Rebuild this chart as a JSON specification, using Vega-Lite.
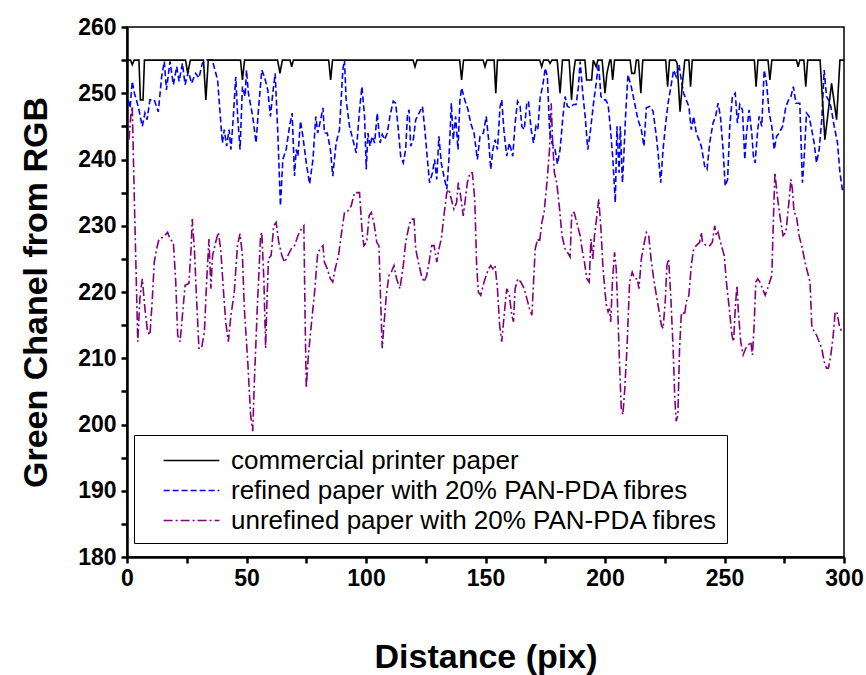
{
  "$schema": "https://vega.github.io/schema/vega-lite/v6.json",
  "width": 717,
  "height": 530,
  "autosize": {"type": "none"},
  "padding": {"left": 127, "top": 27, "right": 22, "bottom": 118},
  "background": "white",
  "config": {
    "font": "Liberation Sans",
    "view": {"stroke": "black", "strokeWidth": 1.5},
    "axis": {
      "grid": false,
      "domainColor": "black",
      "domainWidth": 2.5,
      "tickColor": "black",
      "tickWidth": 2.5,
      "tickSize": 6,
      "labelFlush": false,
      "labelFont": "Liberation Sans",
      "labelFontWeight": "bold",
      "labelFontSize": 23,
      "labelColor": "black",
      "titleFont": "Liberation Sans",
      "titleFontWeight": "bold",
      "titleFontSize": 34,
      "titleColor": "black"
    },
    "legend": {
      "orient": "none",
      "legendX": 7,
      "legendY": 408,
      "strokeColor": "black",
      "padding": 9,
      "symbolType": "M-1.8,0H1.8",
      "symbolSize": 961,
      "symbolStrokeWidth": 1.6,
      "symbolOffset": 32,
      "labelOffset": 23,
      "labelFont": "Liberation Sans",
      "labelFontSize": 26,
      "labelColor": "black",
      "labelLimit": 800,
      "rowPadding": 0
    }
  },
  "datasets": {
    "commercial": [
      {"x":0,"y":255},{"x":1.5,"y":255},{"x":2.2,"y":254.3},{"x":3,"y":255},{"x":5,"y":255},{"x":5.6,"y":249},{"x":6.7,"y":249},{"x":7.3,"y":255},
      {"x":24.5,"y":255},{"x":25.4,"y":253},{"x":26.5,"y":255},{"x":32,"y":255},{"x":33,"y":249},{"x":34,"y":255},{"x":47.5,"y":255},{"x":48.3,"y":252},{"x":49.2,"y":255},
      {"x":63,"y":255},{"x":64,"y":253},{"x":65,"y":255},{"x":68.2,"y":255},{"x":68.9,"y":254},{"x":69.6,"y":255},{"x":84.4,"y":255},{"x":85.2,"y":252},{"x":86,"y":255},
      {"x":119.7,"y":255},{"x":120.5,"y":254},{"x":121.3,"y":255},{"x":139.2,"y":255},{"x":140,"y":252},{"x":140.8,"y":255},{"x":149,"y":255},{"x":149.8,"y":254},{"x":150.6,"y":255},
      {"x":153.6,"y":255},{"x":154.3,"y":250},{"x":155,"y":255},{"x":172.7,"y":255},{"x":173.5,"y":254},{"x":174.3,"y":255},{"x":176.3,"y":255},{"x":177,"y":254.5},{"x":177.8,"y":255},
      {"x":180,"y":255},{"x":181.2,"y":250},{"x":182.2,"y":255},{"x":185,"y":255},{"x":186,"y":249},{"x":186.8,"y":253},{"x":187.6,"y":255},{"x":191.6,"y":255},{"x":192.3,"y":252},{"x":194.4,"y":252},{"x":195.1,"y":255},{"x":196.3,"y":254},{"x":197,"y":255},
      {"x":198.8,"y":255},{"x":200,"y":250},{"x":200.8,"y":253},{"x":202,"y":255},{"x":202.5,"y":255},{"x":203.2,"y":252},{"x":204,"y":255},{"x":210.5,"y":255},{"x":211.2,"y":253},{"x":212.4,"y":253},{"x":213.1,"y":255},
      {"x":214,"y":255},{"x":215,"y":250},{"x":215.8,"y":255},{"x":225.4,"y":255},{"x":226.2,"y":251},{"x":227,"y":255},{"x":229.5,"y":255},{"x":230.2,"y":254.5},{"x":231.4,"y":247.2},{"x":232.4,"y":251.5},{"x":233.4,"y":255},
      {"x":235.1,"y":255},{"x":235.8,"y":251},{"x":236.5,"y":255},{"x":262.5,"y":255},{"x":263.2,"y":251},{"x":264,"y":255},{"x":268.2,"y":255},{"x":269,"y":252},{"x":269.8,"y":255},
      {"x":280.1,"y":255},{"x":280.8,"y":254},{"x":281.5,"y":255},{"x":283.2,"y":255},{"x":284,"y":251},{"x":284.8,"y":255},{"x":290,"y":255},{"x":292,"y":243},{"x":294.8,"y":251.5},{"x":296.9,"y":246},{"x":298.3,"y":255},{"x":300,"y":255}
    ],
    "refined": [
      {"x":0.5,"y":249},{"x":1.3,"y":247.8},{"x":2.2,"y":251.8},{"x":3.1,"y":250},{"x":4.7,"y":248},{"x":6.4,"y":245},{"x":7.5,"y":247},{"x":8.4,"y":246},{"x":9.6,"y":249},{"x":11.4,"y":249},{"x":13.1,"y":247.2},{"x":14.5,"y":252.5},{"x":15.6,"y":254.8},{"x":16.5,"y":250.5},{"x":18,"y":254.8},{"x":19.4,"y":251.3},{"x":20.8,"y":254},{"x":21.8,"y":251.8},{"x":23.2,"y":254.5},{"x":24.3,"y":251.3},{"x":25.7,"y":253.3},{"x":27,"y":251.5},{"x":28.7,"y":253},{"x":30.1,"y":252.3},{"x":31.5,"y":254.5},{"x":33.3,"y":255},{"x":35.7,"y":255},{"x":37.9,"y":252},{"x":39.9,"y":242.5},{"x":40.7,"y":244.5},{"x":41.7,"y":242},{"x":42.7,"y":244.5},{"x":43.5,"y":241.5},{"x":44.5,"y":246.5},{"x":45.5,"y":252.5},{"x":46.3,"y":246.5},{"x":47.3,"y":241.5},{"x":48.3,"y":251},{"x":49.4,"y":249.5},
      {"x":50,"y":253.5},{"x":50.8,"y":250},{"x":52.6,"y":246.5},{"x":54,"y":242.5},{"x":55,"y":247.5},{"x":56.4,"y":253.5},{"x":57.5,"y":252.5},{"x":58.9,"y":250.5},{"x":60,"y":246.5},{"x":61,"y":250},{"x":62,"y":253},{"x":63.1,"y":244},{"x":64.2,"y":233},{"x":65.2,"y":240},{"x":66.6,"y":241.5},{"x":68,"y":245},{"x":69.1,"y":247},{"x":70.1,"y":237.5},{"x":70.8,"y":241.5},{"x":71.5,"y":240.5},{"x":72.6,"y":245.8},{"x":73.6,"y":243.5},{"x":75,"y":239.5},{"x":76.4,"y":236.3},{"x":77.8,"y":240},{"x":79,"y":246.5},{"x":79.8,"y":244},{"x":81,"y":246},{"x":82,"y":247.8},{"x":82.6,"y":244},{"x":83.8,"y":244},{"x":85.1,"y":241.5},{"x":86.1,"y":237.5},{"x":87.5,"y":242.5},{"x":88.9,"y":244.5},{"x":90.3,"y":253.5},{"x":91,"y":255},{"x":91.7,"y":249},{"x":93.1,"y":245},{"x":94.5,"y":243},{"x":95.9,"y":241},{"x":97.3,"y":247.5},{"x":98.3,"y":251},{"x":99.4,"y":246.5},
      {"x":100.1,"y":238.5},{"x":100.8,"y":244},{"x":101.7,"y":242},{"x":102.6,"y":243.5},{"x":103.6,"y":242.5},{"x":104.7,"y":247},{"x":105.9,"y":242.5},{"x":106.8,"y":243.8},{"x":107.8,"y":243},{"x":108.9,"y":244},{"x":110,"y":246.5},{"x":111.4,"y":248.8},{"x":112.4,"y":248.5},{"x":113.4,"y":245},{"x":114.5,"y":240.5},{"x":115.6,"y":239.5},{"x":116.6,"y":241.5},{"x":117.3,"y":246.5},{"x":118,"y":247.5},{"x":118.7,"y":242},{"x":119.8,"y":243},{"x":120.8,"y":246},{"x":122.2,"y":247},{"x":123.6,"y":248},{"x":124.5,"y":245},{"x":125.7,"y":240},{"x":126.6,"y":236.5},{"x":127.8,"y":238},{"x":128.7,"y":240},{"x":129.6,"y":237},{"x":130.5,"y":243.5},{"x":131.5,"y":239.5},{"x":132.6,"y":237.5},{"x":133.8,"y":235.5},{"x":134.7,"y":240},{"x":135.7,"y":248.5},{"x":136.5,"y":243},{"x":137.5,"y":246.5},{"x":138.5,"y":241.5},{"x":139.3,"y":249},{"x":140,"y":250.8},{"x":141.3,"y":249},{"x":142.7,"y":247.5},{"x":143.8,"y":245.5},{"x":145.2,"y":244},{"x":146.6,"y":240},{"x":147.7,"y":243.5},{"x":149.1,"y":244},
      {"x":150.3,"y":246.5},{"x":151.3,"y":243},{"x":152.2,"y":238.5},{"x":153.1,"y":241.5},{"x":154,"y":243},{"x":155,"y":241.5},{"x":156.1,"y":248},{"x":156.8,"y":249},{"x":157.8,"y":244},{"x":158.9,"y":240.5},{"x":160,"y":242.5},{"x":161.4,"y":240.5},{"x":162.4,"y":245.5},{"x":163.4,"y":248.8},{"x":164.5,"y":248},{"x":165.2,"y":245},{"x":166.2,"y":244.5},{"x":167.3,"y":248.5},{"x":168,"y":248.8},{"x":169.1,"y":244.5},{"x":170.1,"y":242.5},{"x":171.1,"y":245},{"x":171.9,"y":244.5},{"x":172.9,"y":249.5},{"x":173.9,"y":251},{"x":175,"y":253.8},{"x":175.9,"y":252.5},{"x":176.8,"y":244.5},{"x":177.8,"y":242.5},{"x":179.1,"y":241.5},{"x":180.1,"y":239.3},{"x":181.2,"y":241.5},{"x":182.4,"y":246.5},{"x":183.3,"y":249.5},{"x":184.3,"y":248},{"x":185.4,"y":247.8},{"x":186.8,"y":248.3},{"x":187.9,"y":248.3},{"x":188.9,"y":251},{"x":189.6,"y":254.8},{"x":190.7,"y":250},{"x":191.7,"y":246.5},{"x":192.8,"y":241.5},{"x":193.8,"y":244},{"x":195.2,"y":248.5},{"x":196.3,"y":251.5},{"x":197.3,"y":254.5},{"x":198.3,"y":249.5},{"x":199.4,"y":249},
      {"x":200.3,"y":249},{"x":201.3,"y":248.3},{"x":202.2,"y":245},{"x":203.3,"y":240},{"x":204.3,"y":233.5},{"x":205,"y":245},{"x":205.9,"y":238},{"x":206.4,"y":245},{"x":207.3,"y":236.5},{"x":207.8,"y":240},{"x":208.6,"y":246.5},{"x":209.6,"y":252.8},{"x":211,"y":251},{"x":212.4,"y":248.5},{"x":213.8,"y":246},{"x":215.2,"y":244.5},{"x":216.3,"y":242},{"x":217.3,"y":247.8},{"x":218.7,"y":248},{"x":220.1,"y":247.3},{"x":221.5,"y":243.5},{"x":222.6,"y":239.5},{"x":223.3,"y":236.5},{"x":224.3,"y":241.5},{"x":225.4,"y":245.5},{"x":226.4,"y":248.5},{"x":227.8,"y":251.5},{"x":228.7,"y":253.5},{"x":229.8,"y":252.5},{"x":231,"y":254.3},{"x":231.9,"y":252},{"x":232.9,"y":250},{"x":234,"y":249},{"x":235.1,"y":248},{"x":236.1,"y":244.5},{"x":237.1,"y":246.5},{"x":238.2,"y":244},{"x":239.3,"y":243},{"x":240.3,"y":242},{"x":241.7,"y":239},{"x":242.7,"y":238.5},{"x":243.8,"y":242.5},{"x":245.2,"y":245.5},{"x":246.3,"y":246.5},{"x":247.3,"y":248.5},{"x":248.3,"y":246.5},{"x":249.4,"y":241.5},
      {"x":250.3,"y":236},{"x":251.3,"y":237},{"x":252.2,"y":245},{"x":253.3,"y":249.5},{"x":254.5,"y":250},{"x":255.4,"y":245.5},{"x":256.4,"y":248.3},{"x":257.5,"y":247.5},{"x":258.5,"y":240},{"x":259.2,"y":244},{"x":260.3,"y":247.5},{"x":261.4,"y":244},{"x":262.1,"y":240.5},{"x":262.8,"y":239.5},{"x":263.8,"y":244},{"x":264.5,"y":246.5},{"x":265.6,"y":245},{"x":266.6,"y":253.5},{"x":267.6,"y":251.5},{"x":268.7,"y":247},{"x":269.8,"y":245},{"x":270.8,"y":241.5},{"x":271.8,"y":243.5},{"x":272.9,"y":244},{"x":274.3,"y":245},{"x":275.7,"y":248},{"x":276.8,"y":249},{"x":277.8,"y":249.5},{"x":278.8,"y":251},{"x":279.9,"y":248.5},{"x":281.5,"y":248.5},{"x":282.6,"y":236.5},{"x":283.3,"y":240},{"x":284.3,"y":247},{"x":285.4,"y":246.5},{"x":286.5,"y":244.5},{"x":287.5,"y":242.5},{"x":288.5,"y":239.5},{"x":289.6,"y":241.5},{"x":290.7,"y":246},{"x":291.7,"y":253.5},{"x":292.7,"y":249.5},{"x":293.5,"y":249},{"x":294.5,"y":248},{"x":295.9,"y":245},{"x":297.3,"y":242.5},{"x":298.3,"y":238},{"x":299.5,"y":235}
    ],
    "unrefined": [
      {"x":0.8,"y":243},{"x":1.7,"y":247},{"x":2.2,"y":248},{"x":3.2,"y":232},{"x":4.5,"y":212.5},{"x":5.4,"y":219},{"x":6.4,"y":222},{"x":7.5,"y":217.5},{"x":8.6,"y":214},{"x":9.6,"y":213.5},{"x":10.6,"y":219},{"x":11.4,"y":224.5},{"x":12.4,"y":226.5},{"x":13.4,"y":228},{"x":15.2,"y":228.3},{"x":17,"y":229},{"x":18,"y":228},{"x":19.4,"y":227.5},{"x":20.4,"y":221.5},{"x":21.2,"y":213.5},{"x":22.2,"y":212.5},{"x":23.2,"y":216.5},{"x":24.3,"y":221},{"x":25.9,"y":221.3},{"x":26.8,"y":226.5},{"x":27.3,"y":231},{"x":28.2,"y":226.5},{"x":29.1,"y":219},{"x":30.1,"y":211.5},{"x":31.2,"y":211.5},{"x":32.4,"y":214},{"x":33.3,"y":221.5},{"x":34.3,"y":228},{"x":35.1,"y":220.5},{"x":35.8,"y":225.5},{"x":37.1,"y":227.5},{"x":38.2,"y":229},{"x":39.2,"y":226.5},{"x":40.3,"y":220.5},{"x":41.3,"y":215.5},{"x":42.4,"y":212.5},{"x":43.5,"y":216.5},{"x":44.9,"y":220},{"x":46.2,"y":227},{"x":47.3,"y":228.8},{"x":48.3,"y":225.5},{"x":49.1,"y":217.5},
      {"x":50.6,"y":209},{"x":51.7,"y":201.5},{"x":52.6,"y":199},{"x":53.3,"y":206.5},{"x":54.5,"y":217.5},{"x":55.9,"y":228.5},{"x":56.4,"y":229},{"x":57.3,"y":221.5},{"x":58,"y":211.5},{"x":58.6,"y":219},{"x":59.2,"y":225},{"x":60.3,"y":225.5},{"x":61.4,"y":230},{"x":62.4,"y":230.5},{"x":63.5,"y":227.5},{"x":64.8,"y":225.5},{"x":65.9,"y":224.5},{"x":67.3,"y":225.5},{"x":68.7,"y":226.5},{"x":70.1,"y":227},{"x":71.5,"y":228.5},{"x":72.9,"y":229.5},{"x":74,"y":230},{"x":74.5,"y":216.5},{"x":75,"y":205.5},{"x":75.9,"y":210.5},{"x":77.1,"y":215},{"x":78.5,"y":220},{"x":79.8,"y":226},{"x":81,"y":226.5},{"x":82,"y":227},{"x":82.6,"y":224.5},{"x":83.8,"y":223.5},{"x":85.1,"y":222},{"x":86.1,"y":221.5},{"x":87.1,"y":223.5},{"x":88.5,"y":225.5},{"x":89.6,"y":228.5},{"x":91,"y":232},{"x":92.7,"y":232.3},{"x":93.8,"y":233},{"x":95.2,"y":235},{"x":97.3,"y":235},{"x":98.3,"y":229.5},{"x":99.1,"y":227},
      {"x":100.3,"y":227.5},{"x":101.3,"y":231.5},{"x":102.2,"y":232},{"x":103.3,"y":230.5},{"x":104.5,"y":227.5},{"x":105.4,"y":227},{"x":106.1,"y":219},{"x":106.8,"y":211.5},{"x":107.5,"y":215},{"x":108.5,"y":219.5},{"x":109.6,"y":222.5},{"x":110.6,"y":223},{"x":111.7,"y":224},{"x":112.8,"y":222},{"x":114.2,"y":220.5},{"x":115.6,"y":224},{"x":116.6,"y":227.5},{"x":118,"y":230},{"x":119,"y":231},{"x":120.1,"y":231},{"x":120.8,"y":226.5},{"x":121.9,"y":224.5},{"x":123.2,"y":222.5},{"x":124.3,"y":221.5},{"x":125.4,"y":222.5},{"x":126.4,"y":224.5},{"x":127.5,"y":227},{"x":128.5,"y":227},{"x":129.6,"y":224.5},{"x":130.5,"y":226.5},{"x":131.5,"y":228},{"x":132.6,"y":231.5},{"x":133.8,"y":235},{"x":134.7,"y":235.5},{"x":135.7,"y":234},{"x":136.8,"y":232.5},{"x":137.9,"y":233.5},{"x":138.6,"y":236.5},{"x":139.6,"y":234.5},{"x":140.7,"y":231.5},{"x":141.4,"y":233.5},{"x":142.4,"y":236.5},{"x":143.5,"y":238},{"x":144.5,"y":238},{"x":145.5,"y":234},{"x":146.3,"y":224},{"x":147,"y":220},{"x":148,"y":219.5},{"x":149.4,"y":221.5},
      {"x":150.3,"y":222.5},{"x":151.3,"y":223.5},{"x":152.2,"y":224},{"x":153.1,"y":223.5},{"x":154,"y":224},{"x":155,"y":220.5},{"x":155.9,"y":215},{"x":156.8,"y":212.5},{"x":157.8,"y":216.5},{"x":158.9,"y":220.5},{"x":160,"y":219.5},{"x":161,"y":216.5},{"x":161.7,"y":215.5},{"x":162.4,"y":220.5},{"x":163.5,"y":222},{"x":164.8,"y":221.5},{"x":166.2,"y":220.5},{"x":167.3,"y":219},{"x":168.4,"y":217.5},{"x":169.4,"y":216.5},{"x":170.1,"y":221.5},{"x":170.8,"y":226.5},{"x":171.8,"y":228},{"x":172.6,"y":227.5},{"x":173.6,"y":230.5},{"x":174.5,"y":232},{"x":175.7,"y":236.5},{"x":176.8,"y":241.5},{"x":177.5,"y":248.5},{"x":178,"y":243.5},{"x":178.8,"y":238},{"x":179.8,"y":236.5},{"x":181,"y":232.5},{"x":182,"y":228.5},{"x":183.3,"y":226.5},{"x":184.3,"y":226},{"x":185.4,"y":225.3},{"x":186.1,"y":232},{"x":187.1,"y":232},{"x":188.2,"y":230.5},{"x":189.6,"y":228.5},{"x":190.6,"y":226},{"x":191.4,"y":224.5},{"x":192.4,"y":222},{"x":193.4,"y":221.5},{"x":194.1,"y":228},{"x":194.9,"y":225},{"x":195.6,"y":228.5},{"x":196.6,"y":231.5},{"x":197.4,"y":234},{"x":198.3,"y":229.5},{"x":199.1,"y":224},
      {"x":200,"y":220},{"x":200.6,"y":218},{"x":201.3,"y":217},{"x":201.9,"y":217.5},{"x":202.4,"y":215.5},{"x":203.1,"y":221.5},{"x":204,"y":226},{"x":204.7,"y":223.5},{"x":205.4,"y":216.5},{"x":206.1,"y":209},{"x":206.8,"y":202.5},{"x":207.5,"y":201.5},{"x":208.2,"y":205},{"x":209.2,"y":211.5},{"x":210.3,"y":221.5},{"x":211.4,"y":223},{"x":212.4,"y":222},{"x":213.5,"y":222},{"x":214.2,"y":220.5},{"x":215.2,"y":225},{"x":216.2,"y":227},{"x":217.3,"y":229},{"x":218.3,"y":228.5},{"x":219.4,"y":224.5},{"x":220.8,"y":221},{"x":222.2,"y":218},{"x":223.6,"y":215},{"x":224.3,"y":214.5},{"x":225.2,"y":218.5},{"x":225.9,"y":224},{"x":226.6,"y":225},{"x":227.5,"y":219.5},{"x":228.5,"y":211.5},{"x":229.2,"y":204},{"x":229.8,"y":200.5},{"x":230.5,"y":201.5},{"x":231.2,"y":211.5},{"x":231.9,"y":216.5},{"x":232.6,"y":217},{"x":233.3,"y":216.5},{"x":234,"y":218.5},{"x":235.1,"y":219.5},{"x":236.1,"y":224},{"x":237.1,"y":226.5},{"x":238.2,"y":227},{"x":239.6,"y":227.5},{"x":240.3,"y":229},{"x":240.8,"y":227.5},{"x":242.4,"y":227},{"x":243.8,"y":227},{"x":244.9,"y":227.5},{"x":245.9,"y":230},{"x":246.6,"y":228.5},{"x":247.3,"y":229},{"x":248,"y":228},{"x":248.7,"y":227},
      {"x":249.9,"y":225.5},{"x":250.8,"y":221.5},{"x":252,"y":217.5},{"x":253.1,"y":213.5},{"x":253.8,"y":212.5},{"x":254.5,"y":217.5},{"x":255.2,"y":221},{"x":255.9,"y":216.5},{"x":256.8,"y":212.5},{"x":257.8,"y":210.5},{"x":258.9,"y":211.5},{"x":260,"y":212},{"x":261,"y":212.5},{"x":261.7,"y":210.5},{"x":262.4,"y":215},{"x":263.1,"y":221.5},{"x":263.9,"y":222},{"x":264.8,"y":221.5},{"x":265.9,"y":220.5},{"x":267,"y":219.5},{"x":268,"y":220.5},{"x":268.9,"y":221.5},{"x":269.8,"y":222.5},{"x":270.5,"y":231.5},{"x":271.1,"y":238},{"x":271.8,"y":235.5},{"x":272.6,"y":233},{"x":273.6,"y":230.5},{"x":274.5,"y":228.5},{"x":275.7,"y":229},{"x":276.8,"y":233},{"x":277.8,"y":237},{"x":278.4,"y":235.5},{"x":279.1,"y":232},{"x":280.1,"y":231.5},{"x":281.2,"y":228.5},{"x":282.6,"y":226.5},{"x":284,"y":224},{"x":285.1,"y":222.5},{"x":285.8,"y":221.5},{"x":286.5,"y":215},{"x":287.5,"y":214},{"x":288.5,"y":213.5},{"x":289.6,"y":212.5},{"x":290.7,"y":211.5},{"x":291.7,"y":209.5},{"x":292.7,"y":208.5},{"x":293.5,"y":208.5},{"x":294.5,"y":210.5},{"x":295.5,"y":213.5},{"x":296.3,"y":217},{"x":297,"y":217},{"x":298,"y":215},{"x":299,"y":214},{"x":300,"y":214}
    ]
  },
  "encoding": {
    "x": {
      "field": "x", "type": "quantitative",
      "scale": {"domain": [0, 300], "nice": false},
      "axis": {
        "title": "Distance (pix)",
        "values": [0,25,50,75,100,125,150,175,200,225,250,275,300],
        "labelExpr": "datum.value % 50 === 0 ? datum.label : ''",
        "labelFlush": false,
        "labelPadding": 4,
        "titlePadding": 50
      }
    },
    "y": {
      "field": "y", "type": "quantitative",
      "scale": {"domain": [180, 260], "nice": false, "zero": false},
      "axis": {
        "title": "Green Chanel from RGB",
        "values": [180,185,190,195,200,205,210,215,220,225,230,235,240,245,250,255,260],
        "labelExpr": "datum.value % 10 === 0 ? datum.label : ''",
        "labelFlush": false,
        "labelPadding": 5,
        "titlePadding": 24
      }
    },
    "color": {
      "scale": {
        "domain": ["commercial printer paper", "refined paper with 20% PAN-PDA fibres", "unrefined paper with 20% PAN-PDA fibres"],
        "range": ["#000000", "#0000FF", "#800080"]
      },
      "legend": {"title": null, "labelExpr": "datum.label + '\u00a0\u00a0\u00a0\u00a0\u00a0'"}
    },
    "strokeDash": {
      "scale": {
        "domain": ["commercial printer paper", "refined paper with 20% PAN-PDA fibres", "unrefined paper with 20% PAN-PDA fibres"],
        "range": [[1, 0], [6, 3], [9, 3, 2, 3]]
      },
      "legend": {"title": null, "labelExpr": "datum.label + '\u00a0\u00a0\u00a0\u00a0\u00a0'"}
    }
  },
  "layer": [
    {
      "data": {"name": "unrefined"},
      "mark": {"type": "line", "strokeWidth": 1.6},
      "encoding": {
        "color": {"datum": "unrefined paper with 20% PAN-PDA fibres"},
        "strokeDash": {"datum": "unrefined paper with 20% PAN-PDA fibres"}
      }
    },
    {
      "data": {"name": "refined"},
      "mark": {"type": "line", "strokeWidth": 1.6},
      "encoding": {
        "color": {"datum": "refined paper with 20% PAN-PDA fibres"},
        "strokeDash": {"datum": "refined paper with 20% PAN-PDA fibres"}
      }
    },
    {
      "data": {"name": "commercial"},
      "mark": {"type": "line", "strokeWidth": 1.6},
      "encoding": {
        "color": {"datum": "commercial printer paper"},
        "strokeDash": {"datum": "commercial printer paper"}
      }
    }
  ]
}
